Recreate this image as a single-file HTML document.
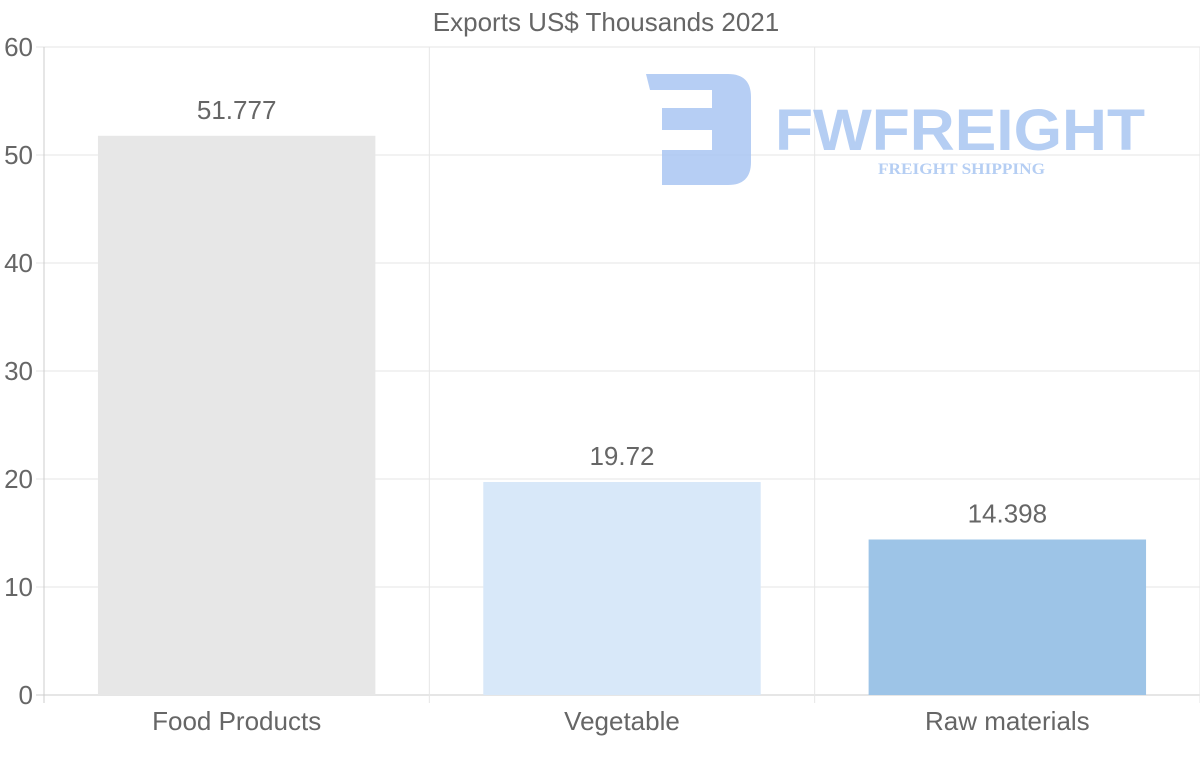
<!DOCTYPE html>
<html><head><meta charset="utf-8"><style>
body{margin:0;background:#fff;}
svg{display:block;font-family:"Liberation Sans",sans-serif;}
</style></head><body>
<svg id="c" width="1200" height="763">
<text x="606" y="31" text-anchor="middle" font-size="26" fill="#666">Exports US$ Thousands 2021</text>
<g id="grid"></g>
<g opacity="0.85">
<path d="M646 74 H728 Q751 74 751 97 V162 Q751 185 728 185 H662 V150 H712 V130 H662 V108 H712 V90 H650 Z" fill="#a9c6f2"/>
<text x="775" y="150" font-size="58" font-weight="bold" fill="#a9c6f2" textLength="370" lengthAdjust="spacingAndGlyphs">FWFREIGHT</text>
<text x="878" y="174" font-size="16" font-weight="bold" font-family="Liberation Serif,serif" fill="#a9c6f2" textLength="167" lengthAdjust="spacingAndGlyphs">FREIGHT SHIPPING</text>
</g>
<g id="bars"></g>
</svg>
<script>
const categories=["Food Products","Vegetable","Raw materials"];
const values=[51.777,19.72,14.398];
const valueLabels=["51.777","19.72","14.398"];
const yTicks=[0,10,20,30,40,50,60];
const colors=["#e7e7e7","#d8e8f9","#9dc4e7"];
const NS="http://www.w3.org/2000/svg";
const L=44,R=1200,T=47,B=695,yMax=60;
const y=v=>B-(v/yMax)*(B-T);
const bw=(R-L)/categories.length;
const xc=i=>L+bw*(i+0.5);
function mk(t,a,p){const e=document.createElementNS(NS,t);for(const k in a)e.setAttribute(k,a[k]);p.appendChild(e);return e;}
const g=document.getElementById('grid'),b=document.getElementById('bars');
yTicks.forEach(t=>{
  const ln=mk('line',{x1:36,x2:R,y1:y(t),y2:y(t),stroke:t===0?'#ccc':'#e6e6e6'},g);
  
  
  const tx=mk('text',{x:33,y:y(t)+9,'text-anchor':'end','font-size':26,fill:'#666'},g);
  tx.textContent=t;
  
  
});
for(let i=0;i<=categories.length;i++){
  const x=L+bw*i;
  const ln=mk('line',{x1:x,x2:x,y1:T,y2:B+8,stroke:i===0?'#ccc':'#e6e6e6'},g);
  
  
}
categories.forEach((c,i)=>{
  const w=bw*0.72;
  const r=mk('rect',{x:xc(i)-w/2,y:y(values[i]),width:w,height:B-y(values[i]),fill:colors[i]},b);
  
  
  const v=mk('text',{x:xc(i),y:y(values[i])-17,'text-anchor':'middle','font-size':26,fill:'#666'},b);
  v.textContent=valueLabels[i];
  
  
  const l=mk('text',{x:xc(i),y:730,'text-anchor':'middle','font-size':26,fill:'#666'},b);
  l.textContent=c;
  
  
});
</script>
</body></html>
